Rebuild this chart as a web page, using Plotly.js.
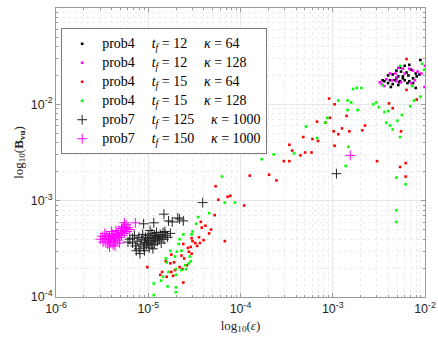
<!DOCTYPE html>
<html>
<head>
<meta charset="utf-8">
<script src="https://cdn.plot.ly/plotly-3.0.1.min.js"></script>
<style>html,body{margin:0;padding:0;background:#fff;}#chart{width:438px;height:346px;}</style>
</head>
<body>
<div id="chart"></div>
<script>
// Values, given as log10 exponents (axes are log-scaled)
// prob4, tf=12, kappa=64 (black dots)
const p4a_logEps = [-2.05,-2.17,-2.22,-2.27,-2.31,-2.26,-2.20,-2.15,-2.10,-2.06,-2.35,-2.29,-2.24,-2.18,-2.13,-2.40,-2.38,-2.33,-2.27,-2.22,-2.17,-2.44,-2.40,-2.35,-2.29,-2.13,-2.10,-2.46,-2.09,-2.24,-2.31,-2.19,-2.37,-2.28];
const p4a_logB   = [-1.54,-1.59,-1.60,-1.62,-1.65,-1.66,-1.67,-1.64,-1.68,-1.69,-1.69,-1.71,-1.71,-1.70,-1.73,-1.70,-1.75,-1.75,-1.76,-1.75,-1.76,-1.76,-1.78,-1.79,-1.80,-1.78,-1.83,-1.75,-1.71,-1.73,-1.73,-1.78,-1.82,-1.77];
// prob4, tf=12, kappa=128 (magenta dots)
const p4b_logEps = [-2.49,-2.47,-2.44,-2.42,-2.38,-2.32,-2.29,-2.24,-2.17,-2.13,-2.08,-2.04,-2.26,-2.31,-2.36,-2.15,-2.22,-2.00,-2.005,-2.31,-2.11];
const p4b_logB   = [-1.77,-1.79,-1.81,-1.74,-1.68,-1.68,-1.62,-1.63,-1.63,-1.65,-1.66,-1.68,-1.77,-1.76,-1.75,-1.78,-1.68,-1.60,-1.82,-1.72,-1.75];
// prob4, tf=15, kappa=64 (red dots)
const p4c_logEps = [-5.01,-4.87,-4.85,-4.81,-4.80,-4.76,-4.75,-4.73,-4.72,-4.71,-4.66,-4.63,-4.64,-4.62,-4.61,-4.58,-4.62,-4.57,-4.56,-4.54,-4.53,-4.52,-4.49,-4.47,-4.45,-4.44,-4.40,-4.38,-4.34,-4.32,-4.42,-4.53,-4.43,-4.28,-4.27,-4.24,-4.14,-4.11,-3.96,-4.17,-3.90,-3.69,-3.61,-3.53,-3.47,-3.47,-3.44,-3.35,-3.30,-3.23,-3.32,-3.22,-3.16,-3.17,-3.08,-3.04,-2.98,-3.03,-2.85,-2.90,-2.99,-2.94,-2.82,-2.68,-2.65,-2.98,-2.39,-2.35,-2.20,-2.20,-2.09,-2.26,-2.52,-2.21,-2.27,-2.21,-4.75];
const p4c_logB   = [-3.69,-3.77,-3.74,-3.63,-3.79,-3.65,-3.74,-3.78,-3.64,-3.72,-3.69,-3.71,-3.57,-3.85,-3.60,-3.67,-3.45,-3.49,-3.53,-3.48,-3.55,-3.42,-3.44,-3.47,-3.38,-3.44,-3.41,-3.26,-3.34,-3.30,-3.28,-3.39,-3.22,-3.15,-2.85,-2.99,-2.96,-2.95,-3.05,-3.42,-2.74,-2.73,-2.79,-2.59,-2.59,-2.42,-2.48,-2.53,-2.50,-2.50,-2.34,-2.36,-2.38,-2.18,-2.19,-1.94,-2.00,-2.14,-2.12,-2.25,-2.28,-2.31,-2.28,-2.27,-2.22,-2.43,-1.99,-2.04,-1.85,-1.53,-1.95,-2.28,-2.59,-2.61,-2.65,-2.75,-3.56];
// prob4, tf=15, kappa=128 (green dots)
const p4d_logEps = [-4.94,-4.94,-4.86,-4.84,-4.79,-4.70,-4.70,-4.78,-4.70,-4.59,-4.56,-4.80,-4.81,-4.76,-4.71,-4.69,-4.64,-4.67,-4.66,-4.62,-4.53,-4.52,-4.55,-4.54,-4.60,-4.64,-4.70,-4.48,-4.46,-4.34,-4.17,-4.06,-4.20,-3.77,-3.64,-3.42,-3.29,-3.17,-3.08,-3.06,-2.94,-2.84,-2.80,-2.84,-2.73,-2.78,-2.74,-2.69,-2.56,-2.53,-2.50,-2.44,-2.40,-2.42,-2.38,-2.35,-2.25,-2.27,-2.16,-2.12,-2.05,-2.03,-2.14,-2.46,-2.27,-2.01,-2.83,-2.86,-2.31,-2.21,-2.31,-2.31,-2.30];
const p4d_logB   = [-3.98,-3.86,-3.83,-3.79,-3.89,-3.90,-3.95,-3.74,-3.71,-3.71,-3.65,-3.64,-3.60,-3.52,-3.58,-3.53,-3.52,-3.45,-3.40,-3.35,-3.35,-3.32,-3.58,-3.63,-3.67,-3.72,-3.77,-3.24,-3.17,-3.13,-3.02,-3.02,-2.75,-2.57,-2.52,-2.51,-2.23,-2.35,-2.19,-2.14,-1.96,-1.96,-1.98,-2.06,-2.06,-1.84,-1.83,-1.83,-2.00,-1.98,-2.03,-2.08,-2.07,-2.19,-2.22,-2.26,-2.11,-2.34,-2.02,-1.96,-1.92,-1.58,-1.81,-1.80,-1.60,-1.64,-2.44,-2.64,-2.76,-2.83,-3.10,-3.22,-2.17];
// prob7, tf=125, kappa=1000 (black +)
const p7a_logEps = [-4.41,-4.83,-4.78,-4.74,-4.68,-4.66,-4.62,-5.05,-4.94,-2.96,-5.17,-4.82,-5.20,-5.17,-5.14,-5.12,-5.10,-5.10,-5.08,-5.07,-5.06,-5.05,-5.04,-5.03,-5.02,-5.01,-5.00,-5.00,-4.99,-4.98,-4.97,-4.96,-4.96,-4.95,-4.94,-4.93,-4.93,-4.92,-4.91,-4.90,-4.89,-4.88,-4.87,-4.86,-4.85,-4.84,-4.83,-4.81,-4.79,-5.13,-5.09,-5.04,-4.98,-5.15,-4.76,-5.22,-4.95];
const p7a_logB   = [-3.02,-3.14,-3.21,-3.22,-3.18,-3.19,-3.21,-3.24,-3.23,-2.72,-3.39,-3.32,-3.40,-3.44,-3.47,-3.42,-3.38,-3.50,-3.45,-3.40,-3.35,-3.48,-3.43,-3.38,-3.46,-3.41,-3.36,-3.44,-3.49,-3.39,-3.43,-3.34,-3.46,-3.38,-3.41,-3.36,-3.45,-3.39,-3.33,-3.42,-3.37,-3.40,-3.35,-3.44,-3.38,-3.33,-3.40,-3.36,-3.38,-3.52,-3.55,-3.52,-3.31,-3.36,-3.34,-3.43,-3.50];
// prob7, tf=150, kappa=1000 (magenta +)
const p7b_logEps = [-5.52,-5.50,-5.49,-5.47,-5.46,-5.45,-5.44,-5.43,-5.42,-5.41,-5.40,-5.39,-5.38,-5.38,-5.37,-5.36,-5.35,-5.34,-5.33,-5.33,-5.32,-5.31,-5.30,-5.29,-5.29,-5.28,-5.27,-5.26,-5.25,-5.24,-5.23,-5.22,-5.42,-5.36,-5.47,-5.26,-5.20,-5.35,-5.40,-5.31,-5.14,-2.81];
const p7b_logB   = [-3.40,-3.37,-3.43,-3.39,-3.42,-3.36,-3.45,-3.40,-3.37,-3.43,-3.39,-3.35,-3.46,-3.41,-3.37,-3.43,-3.39,-3.34,-3.41,-3.36,-3.31,-3.38,-3.33,-3.29,-3.36,-3.31,-3.27,-3.34,-3.29,-3.25,-3.32,-3.28,-3.48,-3.47,-3.34,-3.23,-3.30,-3.31,-3.32,-3.44,-3.23,-2.53];

const seriesProb = ['prob4', 'prob4', 'prob4', 'prob4', 'prob7', 'prob7'];
const seriesTf = ['12', '12', '15', '15', '125', '150'];
const seriesKappa = ['64', '128', '64', '128', '1000', '1000'];

const gap = '\u00A0\u00A0\u00A0\u00A0\u2009';
const seriesNames = seriesProb.map((p, i) =>
  '<span style="font-size:14px">' + p + gap + '<i>t</i><sub><i>f</i></sub>\u00A0=\u00A0' + seriesTf[i] +
  gap + '<i>κ</i>\u00A0=\u00A0' + seriesKappa[i] + '</span>');

const xTickVals = [1e-6, 1e-5, 1e-4, 1e-3, 1e-2];
const xTickText = ['10<sup>-6</sup>','10<sup>-5</sup>','10<sup>-4</sup>','10<sup>-3</sup>','10<sup>-2</sup>'];
const yTickVals = [1e-4, 1e-3, 1e-2, 1e-1];
const yTickText = ['10<sup>-4</sup>','10<sup>-3</sup>','10<sup>-2</sup>','10<sup>-1</sup>'];

const pw = a => a.map(v => Math.pow(10, v));

function minorVals(lo, hi) {
  const out = [];
  for (let e = lo; e < hi; e++) for (let m = 2; m <= 9; m++) out.push(m * Math.pow(10, e));
  return out;
}

const dotTrace = (lx, ly, name, color) => ({
  x: pw(lx), y: pw(ly), name: name, type: 'scatter', mode: 'markers',
  marker: {symbol: 'square', size: 2.6, color: color, line: {width: 0}},
  cliponaxis: true
});
const plusTrace = (lx, ly, name, color) => ({
  x: pw(lx), y: pw(ly), name: name, type: 'scatter', mode: 'markers',
  marker: {symbol: 'cross-thin-open', size: 7, color: color, line: {width: 1, color: color}},
  cliponaxis: true
});

const traces = [
  dotTrace(p4a_logEps, p4a_logB, seriesNames[0], '#000000'),
  dotTrace(p4b_logEps, p4b_logB, seriesNames[1], '#ff00ff'),
  dotTrace(p4c_logEps, p4c_logB, seriesNames[2], '#ff0000'),
  dotTrace(p4d_logEps, p4d_logB, seriesNames[3], '#00ff00'),
  plusTrace(p7a_logEps, p7a_logB, seriesNames[4], '#222222'),
  plusTrace(p7b_logEps, p7b_logB, seriesNames[5], '#ff00ff')
];

const axisCommon = {
  type: 'log',
  showline: true, linecolor: '#9a9a9a', linewidth: 1, mirror: 'ticks',
  ticks: 'inside', ticklen: 4, tickcolor: '#9a9a9a',
  showgrid: true, gridcolor: '#e6e6e6', gridwidth: 1,
  zeroline: false,
  tickfont: {family: 'Liberation Sans, Arial, sans-serif', size: 12.5, color: '#262626'},
  tickmode: 'array'
};

const layout = {
  width: 438, height: 346,
  margin: {l: 56, r: 13, t: 8, b: 49},
  paper_bgcolor: '#ffffff', plot_bgcolor: '#ffffff',
  showlegend: true,
  xaxis: Object.assign({}, axisCommon, {
    range: [-6, -2],
    tickvals: xTickVals, ticktext: xTickText,
    minor: {tickmode: 'array', tickvals: minorVals(-6, -2), showgrid: true, gridcolor: '#ececec', griddash: 'dot', ticks: 'inside', ticklen: 2, tickcolor: '#9a9a9a'},
    title: {text: 'log<sub>10</sub>(<i>ε</i>)', font: {family: 'Liberation Serif, Times New Roman, serif', size: 13, color: '#262626'}, standoff: 5}
  }),
  yaxis: Object.assign({}, axisCommon, {
    range: [-4, -1],
    tickvals: yTickVals, ticktext: yTickText,
    minor: {tickmode: 'array', tickvals: minorVals(-4, -1), showgrid: true, gridcolor: '#ececec', griddash: 'dot', ticks: 'inside', ticklen: 2, tickcolor: '#9a9a9a'},
    title: {text: 'log<sub>10</sub>(<b>B</b><sub><b>vu</b></sub>)', font: {family: 'Liberation Serif, Times New Roman, serif', size: 13, color: '#262626'}, standoff: 4}
  }),
  legend: {
    x: 0.014, y: 0.93, xanchor: 'left', yanchor: 'top',
    bgcolor: '#ffffff', bordercolor: '#7a7a7a', borderwidth: 1,
    font: {family: 'Liberation Serif, Times New Roman, serif', size: 11, color: '#000000'},
    tracegroupgap: 0, itemsizing: 'trace'
  }
};

Plotly.newPlot('chart', traces, layout, {displayModeBar: false, staticPlot: true});
</script>
</body>
</html>
